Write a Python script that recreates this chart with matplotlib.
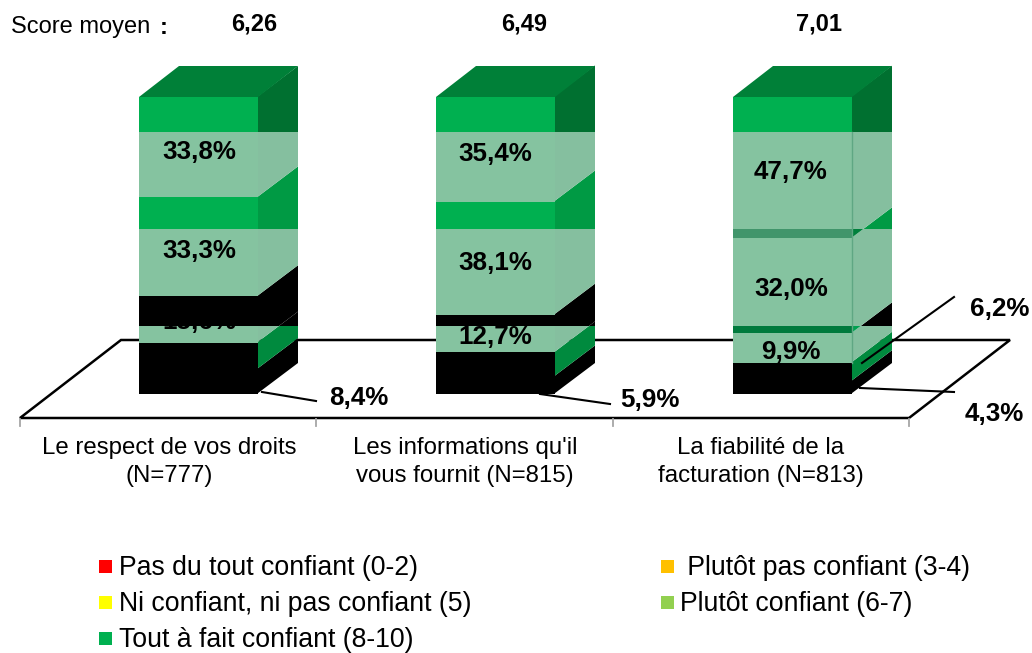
import matplotlib
matplotlib.use("Agg")
import matplotlib.pyplot as plt
from matplotlib.patches import Polygon, Rectangle
from matplotlib.transforms import Affine2D

plt.rcParams["font.family"] = ["Liberation Sans", "DejaVu Sans"]

# data
categories = ["Le respect de vos droits\n(N=777)",
              "Les informations qu'il\nvous fournit (N=815)",
              "La fiabilité de la\nfacturation (N=813)"]
scores = ["6,26", "6,49", "7,01"]
pas_du_tout = [8.4, 5.9, 4.3]
plutot_pas = [8.9, 8.1, 6.2]
ni_ni = [15.6, 12.7, 9.9]
plutot = [33.3, 38.1, 32.0]
tout_a_fait = [33.8, 35.4, 47.7]
series = [pas_du_tout, plutot_pas, ni_ni, plutot, tout_a_fait]
legend_names = ["Pas du tout confiant (0-2)", "Ni confiant, ni pas confiant (5)",
                "Tout à fait confiant (8-10)", " Plutôt pas confiant (3-4)", "Plutôt confiant (6-7)"]
legend_colors = ["#FF0000", "#FFFF00", "#00B050", "#FFC000", "#92D050"]

# the source image has horizontal rendering bands, colours change at these values
band_edges = [-5, 22.9, 55.6, 88.2, 125]
TR = "#85C3A0"
TS = "#85BF9F"
K = "#000000"
# rows = band from bottom to top, columns = series from bottom to top
front_colors = [[K, K, TR, "#007A3D", TR],
                [K, K, K, TR, "#41956B"],
                [K, K, K, "#00B050", TR],
                [K, K, K, "#00B050", "#00B050"]]
side_colors = [[K, "#008A3E", TS, "#00A050", TS],
               [K, K, K, TS, "#00803C"],
               [K, K, K, "#009A44", TS],
               [K, K, K, "#007030", "#007030"]]

W, H = 1032, 653
PX_X = 297     # px per category
PX_Y = 2.97    # px per percent
x0_px, y0_px = 198.5, 394

fig = plt.figure(figsize=(W / 100, H / 100), dpi=100)
ax = fig.add_axes([0, 0, 1, 1])
ax.set_xlim((0 - x0_px) / PX_X, (W - x0_px) / PX_X)
ax.set_ylim((y0_px - H) / PX_Y, y0_px / PX_Y)
ax.axis("off")

# pixel transform for text and leader lines, y going down
px = Affine2D().scale(1 / W, -1 / H).translate(0, 1) + fig.transFigure

half = 59.5 / PX_X
dx, dy = 40 / PX_X, 31 / PX_Y

# floor
floor_front = -24 / PX_Y
floor_back = 54 / PX_Y
fl, fr = (20 - x0_px) / PX_X, (909 - x0_px) / PX_X
fdx = 101 / PX_X
ax.add_patch(Polygon([(fl, floor_front), (fr, floor_front), (fr + fdx, floor_back), (fl + fdx, floor_back)],
                     closed=True, facecolor="white", edgecolor="black", linewidth=1.8, zorder=1))
for i in range(4):
    tx = fl + i * (fr - fl) / 3
    ax.plot([tx, tx], [floor_front - 0.3, floor_front - 2.6], color="#A6A6A6", lw=1.3, zorder=1)

# bars
seam = 0.004
for b in range(3):
    xl, xr = b - half, b + half
    bottom = 0
    for s, vals in enumerate(series):
        top = bottom + vals[b]
        for r in range(4):
            lo, hi = band_edges[r], band_edges[r + 1]
            # side face, clipped to the band
            face = Polygon([(xr - seam, bottom), (xr + dx, bottom + dy), (xr + dx, top + dy), (xr - seam, top)],
                           closed=True, facecolor=side_colors[r][s], edgecolor="none", zorder=3)
            ax.add_patch(face)
            face.set_clip_path(Rectangle((xr - seam, lo), dx + seam, hi - lo, transform=ax.transData))
            # front face
            f_lo, f_hi = max(lo, bottom), min(hi, top)
            if r == 3 and s == 4:
                f_hi = 100.0
            if f_hi > f_lo:
                c = front_colors[r][s]
                ax.bar(b, f_hi - f_lo, bottom=f_lo, width=2 * half, color=c, linewidth=0,
                       zorder=3.5 if c == TR else 5)
        bottom = top
    # top face
    ax.add_patch(Polygon([(xl, 100), (xr, 100), (xr + dx, 100 + dy), (xl + dx, 100 + dy)],
                         closed=True, facecolor="#008038", edgecolor="none", zorder=5))

# edge line seen on the third bar
low3 = pas_du_tout[2] + plutot_pas[2]
ax.plot([2 + half, 2 + half], [low3, band_edges[3]], color="#5FA783", lw=1, zorder=5)

# labels inside the bars
lab_x = [199, 495, 791]
lab_y = [[322, 251, 152], [337, 263, 154], [352, 289, 172]]
for b in range(3):
    for k, vals in enumerate([ni_ni, plutot, tout_a_fait]):
        ax.text(lab_x[b], lab_y[b][k], f"{vals[b]:.1f}%".replace(".", ","), transform=px, ha="center",
                va="center", fontsize=18.7, fontweight="bold", color="black", zorder=4)

# outer labels with leaders
leaders = [((262, 392), (316, 401)), ((540, 394), (610, 404)), ((862, 363), (954, 297)), ((860, 388), (954, 392))]
outer_vals = [pas_du_tout[0], pas_du_tout[1], plutot_pas[2], pas_du_tout[2]]
outer_pos = [(359, 398), (650, 400), (1000, 309), (994, 414)]
for (p1, p2), v, pos in zip(leaders, outer_vals, outer_pos):
    ax.plot([p1[0], p2[0]], [p1[1], p2[1]], transform=px, color="black", lw=1.5, zorder=6)
    ax.text(pos[0], pos[1], f"{v:.1f}%".replace(".", ","), transform=px, ha="center", va="center",
            fontsize=18.7, fontweight="bold", color="black", zorder=6)

# header
ax.text(11, 27, "Score moyen ", transform=px, fontsize=17, va="center", ha="left")
ax.text(160, 27, ":", transform=px, fontsize=17, fontweight="bold", va="center", ha="left")
for xp, s in zip([254, 524, 819], scores):
    ax.text(xp, 24, s, transform=px, fontsize=17, fontweight="bold", va="center", ha="center")

# category labels
for xp, c in zip([169, 465, 761], categories):
    ax.text(xp, 462, c, transform=px, fontsize=17.25, ha="center", va="center", linespacing=1.3)

# legend
leg_x = [99, 99, 99, 661, 661]
leg_y = [566, 602, 638, 566, 602]
txt_x = [119, 119, 119, 680, 680]
for i, name in enumerate(legend_names):
    ax.add_patch(Rectangle((leg_x[i], leg_y[i] - 6.5), 13, 13, transform=px, facecolor=legend_colors[i],
                           edgecolor="none"))
    ax.text(txt_x[i], leg_y[i] + 2, name, transform=px, fontsize=19.2, va="center", ha="left")

fig.savefig("out.png", dpi=100)
